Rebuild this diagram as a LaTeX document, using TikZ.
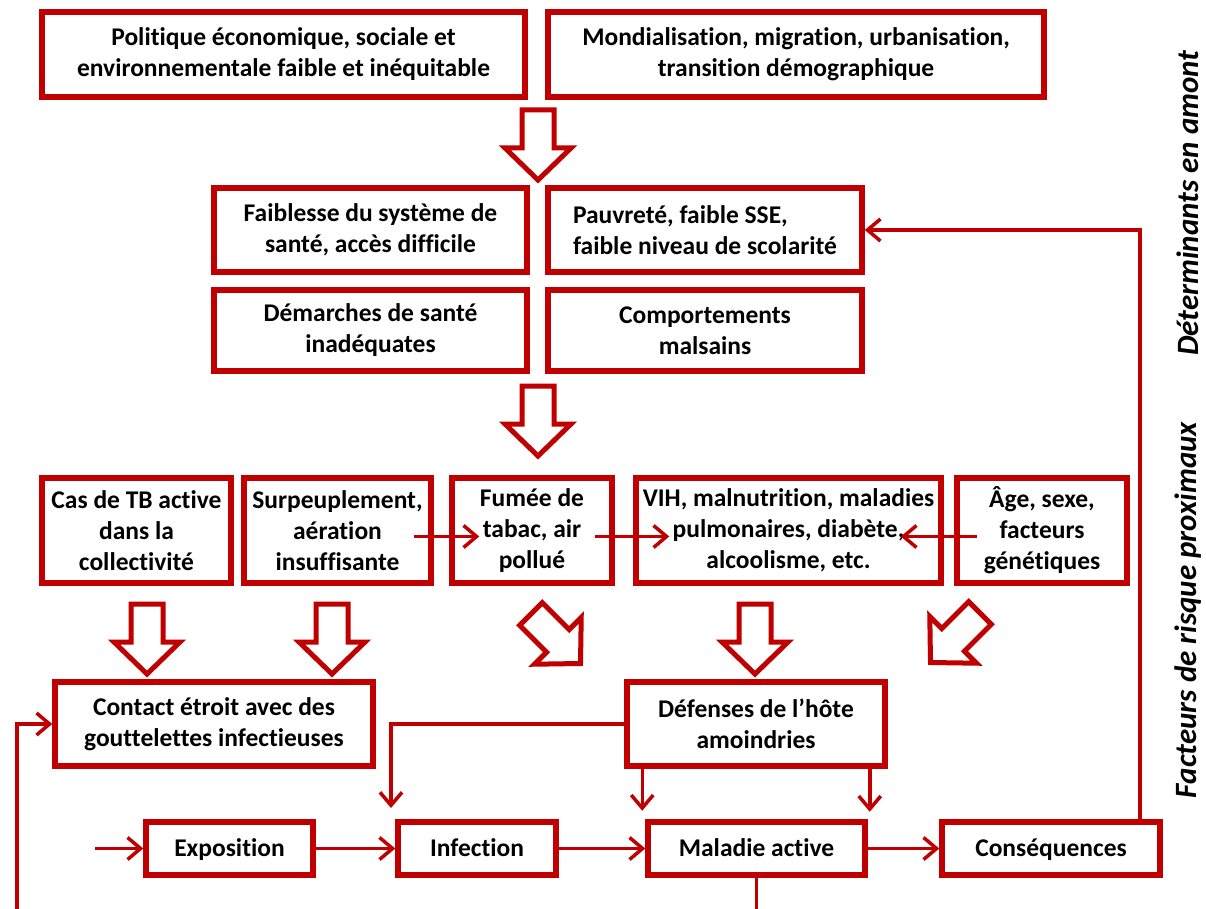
\documentclass[tikz,border=0pt]{standalone}
\usepackage{fontspec}
\setmainfont{Carlito}[Ligatures=NoCommon]
\usetikzlibrary{arrows.meta}
\definecolor{tbred}{HTML}{C00000}

\begin{document}
\begin{tikzpicture}[x=1pt, y=-1pt]
    \tikzset{
        mybox/.style={
            draw=tbred, line width=5.5pt, fill=white, align=center,
            inner sep=2pt, font=\bfseries\fontsize{25.5}{31}\selectfont,
        },
        myline/.style={
            mybox, text height=18pt, text depth=2pt,
        },
        mylink/.style={
            draw=tbred, line width=3.5pt,
            -{Straight Barb[length=13pt, width=22pt]},
        },
        myside/.style={
            rotate=90, inner sep=0pt,
            font=\bfseries\itshape\fontsize{31}{36}\selectfont,
        },
        hollow/.pic={
            \draw[tbred, line width=5pt, fill=white, line join=miter]
                (-16,0) -- (-16,38) -- (-33,38) -- (0,70)
                -- (33,38) -- (16,38) -- (16,0) -- cycle;
        },
    }
    \useasboundingbox (0,0) rectangle (1206,909);

    % Upstream determinants
    \node[mybox, minimum width=483pt, minimum height=85pt] (pol) at (283.5,54.5)
        {Politique économique, sociale et\\environnementale faible et inéquitable};
    \node[mybox, minimum width=496pt, minimum height=85pt] (mond) at (796,54.5)
        {Mondialisation, migration, urbanisation,\\transition démographique};
    \pic at (538,110) {hollow};

    \node[mybox, minimum width=313pt, minimum height=84pt] (faib) at (370.5,230)
        {Faiblesse du système de\\santé, accès difficile};
    \node[mybox, minimum width=314pt, minimum height=84pt, align=left] (pauv) at (705,230)
        {Pauvreté, faible SSE,\\faible niveau de scolarité};
    \node[mybox, minimum width=313pt, minimum height=81pt] (dem) at (370.5,330.5)
        {Démarches de santé\\inadéquates};
    \node[mybox, minimum width=314pt, minimum height=81pt] (comp) at (705,330.5)
        {Comportements\\malsains};
    \pic at (538,386) {hollow};

    % Proximal risk factors
    \node[mybox, minimum width=189pt, minimum height=105pt] (cas) at (136.5,530.5)
        {Cas de TB active\\dans la\\collectivité};
    \node[mybox, minimum width=187pt, minimum height=105pt] (surp) at (337.5,530.5)
        {Surpeuplement,\\aération\\insuffisante};
    \node[mybox, minimum width=160pt, minimum height=105pt] (fum) at (532,530.5)
        {Fumée de\\tabac, air\\pollué};
    \node[mybox, minimum width=305pt, minimum height=105pt] (vih) at (788.5,530.5)
        {VIH, malnutrition, maladies\\pulmonaires, diabète,\\alcoolisme, etc.};
    \node[mybox, minimum width=170pt, minimum height=105pt] (age) at (1042,530.5)
        {Âge, sexe,\\facteurs\\génétiques};

    \draw[mylink] ([shift={(-20,6)}]surp.east) -- ([shift={(30,6)}]fum.west);
    \draw[mylink] ([shift={(-20,6)}]fum.east) -- ([shift={(36,6)}]vih.west);
    \draw[mylink] ([shift={(23,6)}]age.west) -- ([shift={(-43,6)}]vih.east);

    \pic at (147,604) {hollow};
    \pic at (332,604) {hollow};
    \pic[rotate=45] at (531,614) {hollow};
    \pic at (755,604) {hollow};
    \pic[rotate=-45] at (980,613) {hollow};

    \node[mybox, minimum width=318pt, minimum height=84pt] (cont) at (214,724)
        {Contact étroit avec des\\gouttelettes infectieuses};
    \node[mybox, minimum width=258pt, minimum height=84pt] (def) at (756,724)
        {Défenses de l’hôte\\amoindries};

    % Disease pathway
    \node[myline, minimum width=167pt, minimum height=53pt] (expo) at (229.5,848.5) {Exposition};
    \node[myline, minimum width=158pt, minimum height=53pt] (inf) at (477,848.5) {Infection};
    \node[myline, minimum width=217pt, minimum height=53pt] (mal) at (756.5,848.5) {Maladie active};
    \node[myline, minimum width=218pt, minimum height=53pt] (cons) at (1051,848.5) {Conséquences};

    \coordinate (inE) at (95,848.5);
    \coordinate (inC) at (17,909);
    \coordinate (outM) at (756.5,909);
    \coordinate (dI) at (391,808);

    \draw[mylink] (inE) -- (expo);
    \draw[mylink] (expo) -- (inf);
    \draw[mylink] (inf) -- (mal);
    \draw[mylink] (mal) -- (cons);
    \draw[mylink, -] (mal.south) -- (outM);
    \draw[mylink] (inC) |- (cont.west);
    \draw[mylink] (def.west) -| (dI);
    \draw[mylink] ([xshift=18pt]def.south west) -- ++(0,42);
    \draw[mylink] ([xshift=-18pt]def.south east) -- ++(0,43);
    \draw[mylink] ([xshift=-23pt]cons.north east) |- (pauv.east);

    % Side labels
    \node[myside] (amont) at (1188,203) {Déterminants en amont};
    \node[myside] (prox) at (1188,610) {Facteurs de risque proximaux};

\end{tikzpicture}
\end{document}
